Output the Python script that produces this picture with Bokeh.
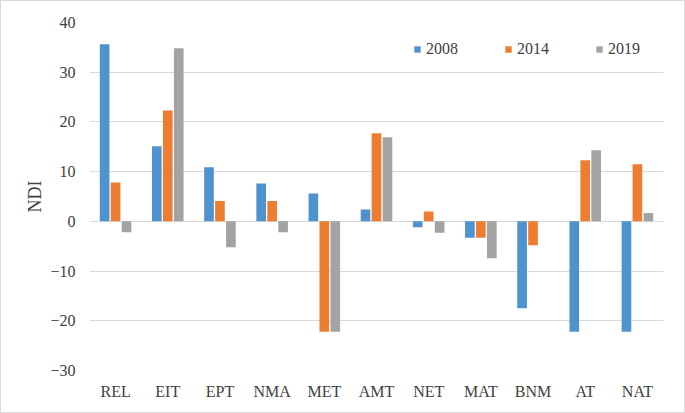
from bokeh.plotting import figure
from bokeh.models import ColumnDataSource, FactorRange, Range1d, FixedTicker, Legend, LegendItem
from bokeh.transform import dodge
from bokeh.embed import file_html
from bokeh.resources import INLINE

categories = ["REL", "EIT", "EPT", "NMA", "MET", "AMT", "NET", "MAT", "BNM", "AT", "NAT"]
series_names = ["2008", "2014", "2019"]
v2008 = [35.6, 15.1, 10.9, 7.6, 5.6, 2.4, -1.2, -3.3, -17.5, -22.2, -22.2]
v2014 = [7.8, 22.3, 4.1, 4.1, -22.2, 17.7, 2.0, -3.3, -4.8, 12.3, 11.5]
v2019 = [-2.2, 34.8, -5.2, -2.2, -22.2, 16.9, -2.3, -7.4, 0.0, 14.3, 1.7]
y_ticks = [-30, -20, -10, 0, 10, 20, 30, 40]

colors = ["#4F93CE", "#ED7D31", "#A2A4A4"]
FONT = "Liberation Serif"
TXT = "#404040"

src = ColumnDataSource(dict(cat=categories, v2008=v2008, v2014=v2014, v2019=v2019))

p = figure(
    x_range=FactorRange(*categories, range_padding=0),
    y_range=Range1d(-30, 40),
    frame_width=574, frame_height=348,
    min_border_left=88, min_border_right=21, min_border_top=21, min_border_bottom=42,
    output_backend="svg", toolbar_location=None,
)
p.styles = {"border": "1px solid #D9D9D9"}
p.outline_line_color = None
p.background_fill_color = "white"
p.border_fill_color = "white"

renderers = []
for name, col, off in zip(series_names, colors, [-0.21, 0.0, 0.21]):
    r = p.vbar(x=dodge("cat", off, range=p.x_range), top="v" + name, bottom=0,
               width=0.185, source=src, fill_color=col, line_color=None)
    renderers.append(r)

p.xgrid.grid_line_color = None
p.ygrid.grid_line_color = "#D9D9D9"
p.ygrid.grid_line_width = 1
p.yaxis.ticker = FixedTicker(ticks=y_ticks)

for ax in (p.xaxis[0], p.yaxis[0]):
    ax.axis_line_color = None
    ax.major_tick_line_color = None
    ax.minor_tick_line_color = None
    ax.major_tick_out = 0
    ax.major_tick_in = 0
    ax.minor_tick_out = 0
    ax.minor_tick_in = 0
    ax.major_label_text_font = FONT
    ax.major_label_text_color = TXT

p.xaxis.major_label_text_font_size = "16px"
p.xaxis.major_label_standoff = 12
p.yaxis.major_label_text_font_size = "16px"
p.yaxis.major_label_standoff = 14
p.yaxis.axis_label = "NDI"
p.yaxis.axis_label_text_font = FONT
p.yaxis.axis_label_text_font_style = "normal"
p.yaxis.axis_label_text_font_size = "18px"
p.yaxis.axis_label_text_color = TXT
p.yaxis.axis_label_standoff = 2

legend = Legend(
    items=[LegendItem(label=n, renderers=[r]) for n, r in zip(series_names, renderers)],
    orientation="horizontal", location=(324, 312),
    glyph_width=8, glyph_height=8, label_standoff=5, spacing=46,
    label_text_font=FONT, label_text_font_size="16px", label_text_color=TXT,
    label_height=16, padding=0, margin=0,
    border_line_color=None, background_fill_alpha=0,
)
p.add_layout(legend, "center")

open("out.html", "w").write(file_html(p, INLINE))
